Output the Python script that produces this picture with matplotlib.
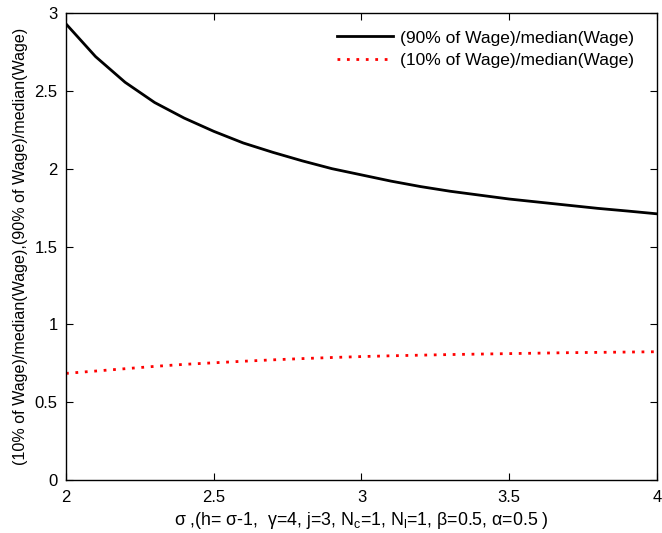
import matplotlib
matplotlib.use("Agg")
import matplotlib.pyplot as plt

plt.rcParams['font.family'] = ['Liberation Sans', 'DejaVu Sans']
plt.rcParams['mathtext.fontset'] = 'custom'
plt.rcParams['mathtext.rm'] = 'Liberation Sans'
plt.rcParams['mathtext.it'] = 'Liberation Sans'

sigma = [2.0, 2.1, 2.2, 2.3, 2.4, 2.5, 2.6, 2.7, 2.8, 2.9, 3.0,
         3.1, 3.2, 3.3, 3.4, 3.5, 3.6, 3.7, 3.8, 3.9, 4.0]
ratio90 = [2.93, 2.72, 2.555, 2.425, 2.325, 2.24, 2.165, 2.105, 2.05, 2.0, 1.96,
           1.92, 1.885, 1.855, 1.83, 1.805, 1.785, 1.765, 1.745, 1.728, 1.71]
ratio10 = [0.685, 0.70, 0.715, 0.73, 0.743, 0.753, 0.763, 0.772, 0.78, 0.787, 0.793,
           0.798, 0.802, 0.806, 0.809, 0.812, 0.815, 0.818, 0.82, 0.822, 0.824]

fig = plt.figure(figsize=(6.62, 5.33), dpi=100)
ax = fig.add_axes([0.0997, 0.0994, 0.8927, 0.8762])
ax.plot(sigma, ratio90, color='black', lw=2, label='(90% of Wage)/median(Wage)')
ax.plot(sigma, ratio10, color='red', lw=2, ls=(0, (1, 2.4)), label='(10% of Wage)/median(Wage)')
ax.set_xlim(2, 4)
ax.set_ylim(0, 3)
ax.set_xticks([2, 2.5, 3, 3.5, 4])
ax.set_xticklabels(['2', '2.5', '3', '3.5', '4'])
ax.set_yticks([0, 0.5, 1, 1.5, 2, 2.5, 3])
ax.set_yticklabels(['0', '0.5', '1', '1.5', '2', '2.5', '3'])
ax.tick_params(direction='in', top=True, right=True, labelsize=12, length=5, width=0.8)
ax.tick_params(axis='x', pad=7)
ax.tick_params(axis='y', pad=6)
for s in ax.spines.values():
    s.set_linewidth(1.0)
ax.set_xlabel(r'σ ,(h= σ-1,  γ=4, j=3, N$_{\mathrm{c}}$=1, N$_{\mathrm{l}}$=1, β=0.5, α=0.5 )', fontsize=12.8, labelpad=4)
ax.set_ylabel('(10% of Wage)/median(Wage),(90% of Wage)/median(Wage)', fontsize=11.6, labelpad=5)
ax.legend(loc='upper right', bbox_to_anchor=(0.99, 1.0), frameon=False, fontsize=12.5,
          handlelength=3.2, handletextpad=0.4, labelspacing=0.45, borderaxespad=0.6)
fig.savefig('out.png', dpi=100)
